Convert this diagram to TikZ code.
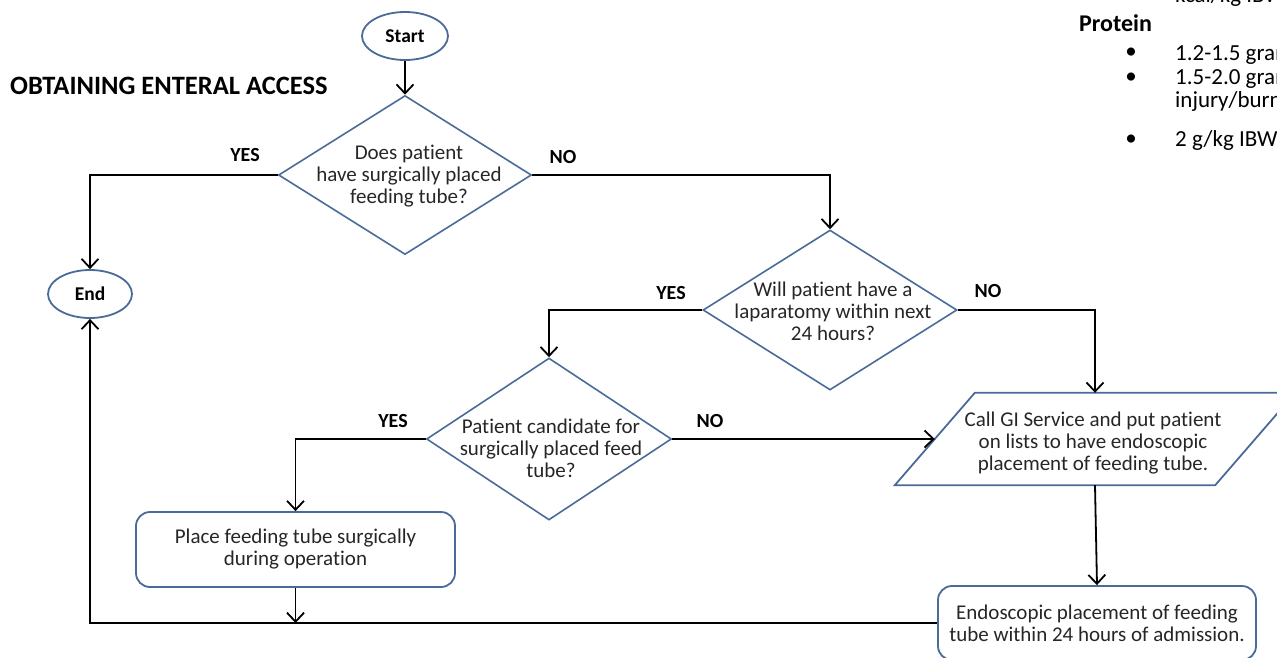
\documentclass[tikz,border=0pt]{standalone}
\usepackage{fontspec}
\setmainfont{Carlito}[Ligatures=NoCommon]
\usetikzlibrary{shapes.geometric,arrows.meta}
\definecolor{shapeblue}{HTML}{4A6A98}
\definecolor{txt}{HTML}{262626}
\tikzset{
  arr/.style={draw=black,line width=1.8pt,-{Straight Barb[length=9pt,width=17pt,line width=1.8pt]}},
  oval/.style={ellipse,draw=shapeblue,line width=1.8pt,inner sep=0pt,font=\fontsize{19.5}{22}\selectfont\bfseries},
  dia/.style={diamond,draw=shapeblue,line width=1.6pt,inner sep=0pt},
  body/.style={align=center,text=txt,font=\fontsize{21}{22}\selectfont,inner sep=0pt},
  rbox/.style={rectangle,rounded corners=14pt,draw=shapeblue,line width=1.8pt,align=center,text=txt,font=\fontsize{21}{22}\selectfont},
  lab/.style={font=\fontsize{20}{22}\selectfont\bfseries,inner sep=0pt},
  outline/.style={draw=shapeblue,line width=1.8pt},
  side/.style={anchor=west,font=\fontsize{23}{24}\selectfont,inner sep=0pt},
  bul/.style={font=\fontsize{23}{24}\selectfont,inner sep=0pt},
}
\begin{document}
\begin{tikzpicture}[x=1pt,y=-1pt]
\useasboundingbox (0,0) rectangle (1277,657);
\clip (0,0) rectangle (1277,657);
% title
\node[anchor=west,font=\fontsize{26.5}{28}\selectfont\bfseries,inner sep=0pt] (title) at (10,86) {OBTAINING ENTERAL ACCESS};
% right side text
\node[side] (t0) at (1175,-4) {kcal/kg IBW};
\node[side,font=\fontsize{24}{26}\selectfont\bfseries] (prot) at (1079,23) {Protein};
\node[bul] (b1) at (1131,53) {•};
\node[side] (t1) at (1175,54) {1.2-1.5 grams/kg};
\node[bul] (b2) at (1131,78) {•};
\node[side] (t2) at (1175,78) {1.5-2.0 grams/kg};
\node[side] (t3) at (1175,101) {injury/burns};
\node[bul] (b3) at (1131,140) {•};
\node[side] (t4) at (1175,140) {2 g/kg IBW};
% shapes
\node[oval,minimum width=86pt,minimum height=48pt] (start) at (405,36) {Start};
\node[oval,minimum width=84pt,minimum height=48pt] (end) at (90,294) {End};
\node[dia,minimum width=253pt,minimum height=159pt] (d1) at (405,175) {};
\node[body] (d1t) at (409,176) {Does patient\\have surgically placed\\feeding tube?};
\node[dia,minimum width=254pt,minimum height=160pt] (d2) at (830,310) {};
\node[body] (d2t) at (833,311) {Will patient have a\\laparatomy within next\\24 hours?};
\node[dia,minimum width=245pt,minimum height=162pt] (d3) at (549,439) {};
\node[body] (d3t) at (551,448) {Patient candidate for\\surgically placed feed\\tube?};
\node[rectangle,minimum width=320pt,minimum height=92pt,inner sep=0pt] (para) at (1095,439) {};
\draw[outline] ([xshift=40pt]para.north west) -- ([xshift=40pt]para.north east)
  -- ([xshift=-40pt]para.south east) -- ([xshift=-40pt]para.south west) -- cycle;
\node[body] (parat) at (1093,443) {Call GI Service and put patient\\on lists to have endoscopic\\placement of feeding tube.};
\node[rbox,minimum width=319pt,minimum height=75pt] (place) at (295.5,549.5) {Place feeding tube surgically\\during operation};
\node[rbox,minimum width=318pt,minimum height=74pt] (endo) at (1097,623) {Endoscopic placement of feeding\\tube within 24 hours of admission.};
% labels
\node[lab] (y1) at (245,155) {YES};
\node[lab] (n1) at (563,157) {NO};
\node[lab] (y2) at (671,293) {YES};
\node[lab] (n2) at (988,291) {NO};
\node[lab] (y3) at (393,421) {YES};
\node[lab] (n3) at (710,421) {NO};
% connectors
\draw[arr] (start.south) -- (d1.north);
\draw[arr] (d1.west) -| (end.north);
\draw[arr] (d1.east) -| (d2.north);
\draw[arr] (d2.west) -| (d3.north);
\draw[arr] (d2.east) -| (para.north);
\draw[arr] (d3.west) -| (place.north);
\draw[arr] (d3.east) -- (para.west);
\draw[arr] (para.south) -- (endo.north);
\coordinate (j) at (place.south |- endo.west);
\draw[arr] (place.south) -- (j);
\draw[arr] (endo.west) -| (end.south);
\end{tikzpicture}
\end{document}
